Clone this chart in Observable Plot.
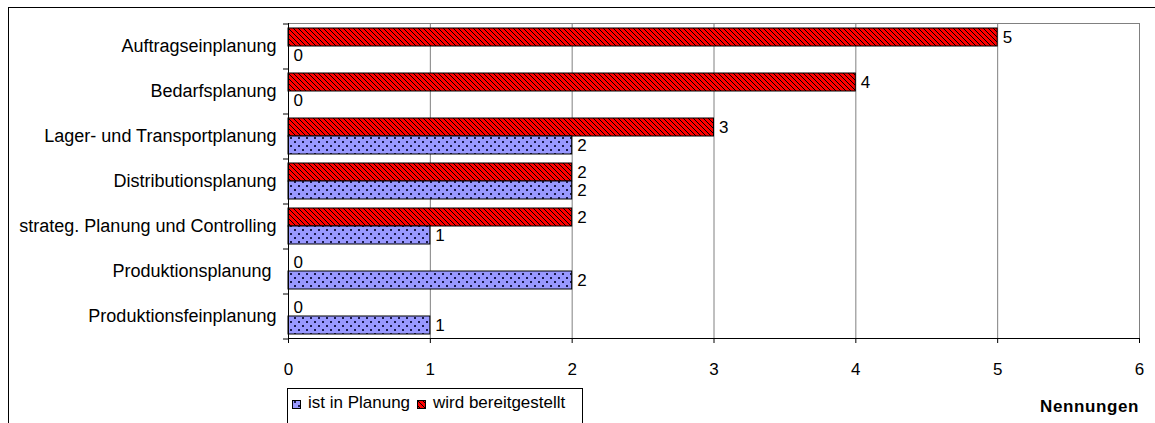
<!DOCTYPE html>
<html><head><meta charset="utf-8">
<script src="https://cdn.jsdelivr.net/npm/d3@7"></script>
<script src="https://cdn.jsdelivr.net/npm/@observablehq/plot@0.6"></script>
<style>
body{margin:0;background:#fff;font-family:"Liberation Sans",Arial,sans-serif;}
#wrap{position:relative;width:1155px;height:423px;overflow:hidden;background:#fff;}
#border{position:absolute;left:8px;top:7px;width:1300px;height:600px;border:1px solid #000;pointer-events:none;}
#legend{position:absolute;left:287px;top:388px;width:296px;height:60px;border:1px solid #000;box-sizing:border-box;background:#fff;font-size:17px;color:#000;}
#legend .sw{position:absolute;top:11px;width:9px;height:9px;}
#legend .lt{position:absolute;top:4px;line-height:20px;white-space:nowrap;}
#xlabel{position:absolute;right:16px;top:397px;line-height:20px;font-size:17px;font-weight:bold;letter-spacing:0.6px;color:#000;}
</style>
</head><body>
<svg width="0" height="0" style="position:absolute">
  <defs>
    <pattern id="hatch" patternUnits="userSpaceOnUse" width="5" height="5">
      <rect width="5" height="5" fill="#FF0000"/>
      <path d="M-1,-1L6,6M4,-1L6,1M-1,4L1,6" stroke="#000" stroke-width="1"/>
    </pattern>
    <pattern id="dots" patternUnits="userSpaceOnUse" width="8" height="8">
      <rect width="8" height="8" fill="#9999FF"/>
      <rect x="2" y="1" width="2" height="2" fill="#1a1a4d"/>
      <rect x="6" y="5" width="2" height="2" fill="#1a1a4d"/>
    </pattern>
  </defs>
</svg>
<div id="wrap">
  <div id="chart"></div>
  <div id="border"></div>
  <div id="legend"></div>
  <div id="xlabel"></div>
</div>
<script>
const categories = ["Auftragseinplanung","Bedarfsplanung","Lager- und Transportplanung","Distributionsplanung","strateg. Planung und Controlling","Produktionsplanung\u00a0","Produktionsfeinplanung"];
const wirdBereitgestellt = [5,4,3,2,2,0,0];
const istInPlanung = [0,0,2,2,1,2,1];
const seriesNames = ["ist in Planung","wird bereitgestellt"];
const xTicks = [0,1,2,3,4,5,6];
const axisTitle = "Nennungen";

const width = 1155, height = 423;
const mt = 23, mb = 85, ml = 288, mr = 16;
const step = (height - mt - mb) / categories.length;
const half = step * 0.8 / 2;

const rows = categories.map((c,i)=>({cat:c, wird:wirdBereitgestellt[i], ist:istInPlanung[i]}));
const font = '"Liberation Sans", Arial, sans-serif';

const chart = Plot.plot({
  width, height,
  marginTop: mt, marginBottom: mb, marginLeft: ml, marginRight: mr,
  style: {fontFamily: font, fontSize: "17px", color: "#000", background: "#fff"},
  x: {domain: [0, 6], ticks: xTicks},
  y: {domain: categories, paddingOuter: 0.1, paddingInner: 0.2},
  marks: [
    Plot.gridX(xTicks, {stroke: "#808080", strokeOpacity: 1}),
    Plot.frame({stroke: "#808080"}),
    Plot.barX(rows.filter(d=>d.wird>0), {x: "wird", y: "cat", insetBottom: half, fill: "url(#hatch)", stroke: "#000", strokeWidth: 1}),
    Plot.barX(rows.filter(d=>d.ist>0), {x: "ist", y: "cat", insetTop: half, fill: "url(#dots)", stroke: "#000", strokeWidth: 1}),
    Plot.text(rows, {x: "wird", y: "cat", text: d=>String(d.wird), dy: -half/2, dx: 5, textAnchor: "start", fontSize: 17, fill: "#000"}),
    Plot.text(rows, {x: "ist", y: "cat", text: d=>String(d.ist), dy: half/2, dx: 5, textAnchor: "start", fontSize: 17, fill: "#000"}),
    Plot.ruleX([0], {stroke: "#000"}),
    Plot.frame({anchor: "bottom", stroke: "#000"}),
    Plot.axisX({ticks: xTicks, tickSize: 5, tickPadding: 19, fontSize: 17, stroke: "#000", label: null, tickFormat: d=>String(d)}),
    Plot.axisY({tickSize: 0, tickPadding: 12, fontSize: 18, label: null}),
    Plot.axisY({tickSize: 5, tickFormat: ()=>"", dy: step/2, stroke: "#000", label: null}),
    Plot.axisY([categories[0]], {tickSize: 5, tickFormat: ()=>"", dy: -step/2, stroke: "#000", label: null})
  ]
});
document.getElementById("chart").appendChild(chart);

const legend = document.getElementById("legend");
const items = [{name: seriesNames[0], fill: "url(#dots)", sx: 4, tx: 20}, {name: seriesNames[1], fill: "url(#hatch)", sx: 129, tx: 145}];
for (const it of items) {
  const sw = document.createElementNS("http://www.w3.org/2000/svg","svg");
  sw.setAttribute("class","sw"); sw.setAttribute("width","9"); sw.setAttribute("height","9");
  sw.style.left = it.sx + "px";
  sw.innerHTML = `<rect x="0.5" y="0.5" width="8" height="8" fill="${it.fill}" stroke="#000" stroke-width="1"/>`;
  legend.appendChild(sw);
  const t = document.createElement("span");
  t.className = "lt"; t.style.left = it.tx + "px"; t.textContent = it.name;
  legend.appendChild(t);
}
document.getElementById("xlabel").textContent = axisTitle;
</script>
</body></html>
